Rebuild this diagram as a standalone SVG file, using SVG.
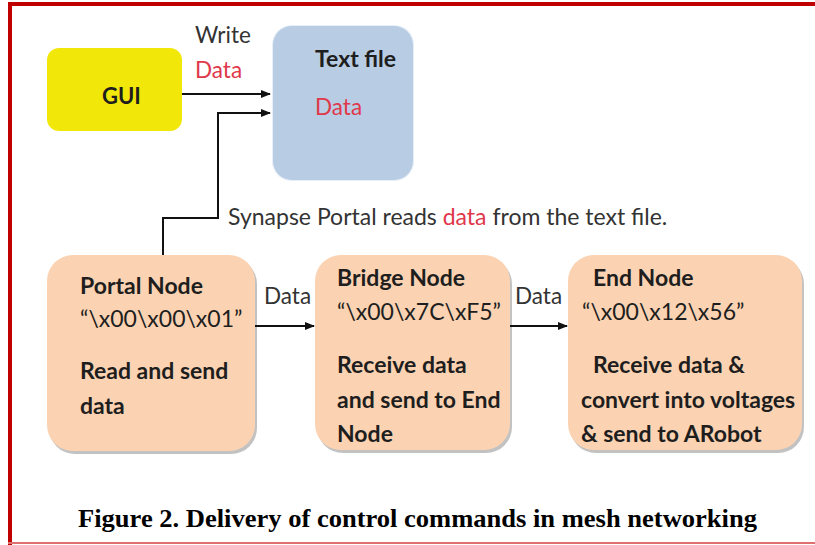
<svg xmlns="http://www.w3.org/2000/svg" width="815" height="545" viewBox="0 0 815 545">
<defs>
<marker id="ah" markerWidth="10" markerHeight="8" refX="9" refY="4" orient="auto" markerUnits="userSpaceOnUse"><path d="M0,0 L10,4 L0,8 z" fill="#111"/></marker>
<style>
.b{font-family:Lato,"Open Sans",sans-serif;font-weight:700;font-size:23px;fill:#1e1e1e}
.q{font-family:Lato,"Open Sans",sans-serif;font-weight:400;font-size:23px;fill:#1e1e1e}
.l{font-family:Lato,"Open Sans",sans-serif;font-weight:400;font-size:22.5px;fill:#333}
.red{fill:#e0384a}
.peach{fill:#fbd3b2}
.shadow{fill:#8f8f8f;opacity:.55}
.cap{font-family:"Liberation Serif",serif;font-weight:bold;font-size:26px;fill:#000}
.conn{stroke:#111;stroke-width:2;fill:none}
</style>
</defs>
<rect x="0" y="0" width="815" height="545" fill="#fff"/>
<g id="frame">
<rect x="8" y="2" width="807" height="4" fill="#c00000"/>
<rect x="8" y="2" width="4" height="543" fill="#c00000"/>
<rect x="8" y="542" width="807" height="2" fill="#e07070"/>
</g>
<g id="gui">
<rect x="47" y="48" width="135" height="83" rx="12" fill="#f1e80a"/>
<text class="b" x="102" y="104" style="font-size:22px">GUI</text>
</g>
<g id="textfile">
<rect x="272" y="25" width="142" height="156" rx="20" fill="#e6eef8"/>
<rect x="273" y="26" width="140" height="154" rx="19" fill="#b8cce4"/>
<text class="b" x="315" y="67">Text file</text>
<text class="l red" x="315" y="115">Data</text>
</g>
<g id="portal">
<rect x="49" y="258" width="208" height="196" rx="26" class="shadow"/>
<rect x="47" y="255" width="208" height="196" rx="26" class="peach"/>
<text class="b" x="80" y="294">Portal Node</text>
<text class="q" x="80" y="327">“\x00\x00\x01”</text>
<text class="b" x="80" y="379">Read and send</text>
<text class="b" x="80" y="414">data</text>
</g>
<g id="bridge">
<rect x="317" y="258" width="195" height="195" rx="26" class="shadow"/>
<rect x="315" y="255" width="195" height="195" rx="26" class="peach"/>
<text class="b" x="337" y="286">Bridge Node</text>
<text class="q" x="337" y="320">“\x00\x7C\xF5”</text>
<text class="b" x="337" y="373">Receive data</text>
<text class="b" x="337" y="408">and send to End</text>
<text class="b" x="337" y="442">Node</text>
</g>
<g id="end">
<rect x="570" y="258" width="234" height="195" rx="26" class="shadow"/>
<rect x="568" y="255" width="234" height="195" rx="26" class="peach"/>
<text class="b" x="593" y="286">End Node</text>
<text class="q" x="582" y="320">“\x00\x12\x56”</text>
<text class="b" x="593" y="373">Receive data &amp;</text>
<text class="b" x="581" y="408">convert into voltages</text>
<text class="b" x="581" y="442">&amp; send to ARobot</text>
</g>
<g id="connectors">
<line class="conn" x1="182" y1="94" x2="270" y2="94" marker-end="url(#ah)"/>
<path class="conn" d="M163,255 V218 H218 V113 H270" marker-end="url(#ah)"/>
<line class="conn" x1="255" y1="326" x2="314" y2="326" marker-end="url(#ah)"/>
<line class="conn" x1="510" y1="326" x2="567" y2="326" marker-end="url(#ah)"/>
</g>
<g id="labels">
<text class="l" x="195" y="43">Write</text>
<text class="l red" x="195" y="78">Data</text>
<text class="l" x="264" y="304">Data</text>
<text class="l" x="515" y="304">Data</text>
<text class="l" x="228" y="225" style="font-size:23px">Synapse Portal reads <tspan class="red">data</tspan> from the text file.</text>
</g>
<text class="cap" x="78" y="527" textLength="679" lengthAdjust="spacingAndGlyphs">Figure 2. Delivery of control commands in mesh networking</text>
</svg>
